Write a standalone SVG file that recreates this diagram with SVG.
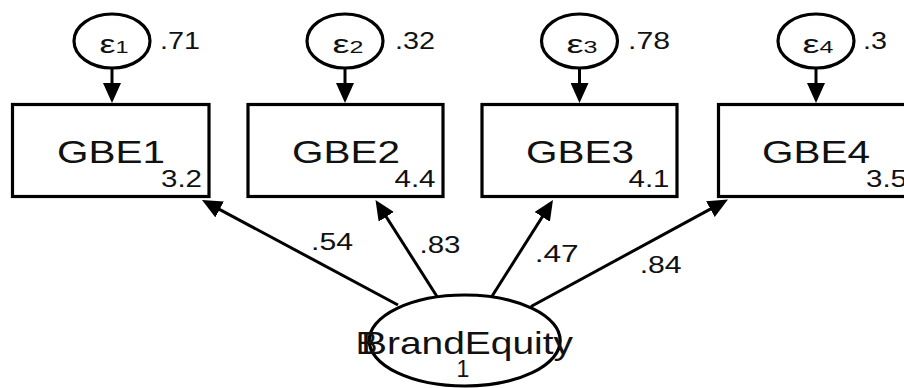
<svg xmlns="http://www.w3.org/2000/svg" width="904" height="388" viewBox="0 0 904 388">
  <style>
    .shape { fill: #fff; stroke: #000; stroke-width: 3.2; }
    .link { stroke: #000; stroke-width: 3; fill: none; marker-end: url(#head); }
    text { font-family: "Liberation Sans", Arial, sans-serif; fill: #111; }
    .name { font-size: 32px; text-anchor: middle; }
    .mean { font-size: 23px; text-anchor: end; }
    .coef { font-size: 23px; }
    .eps { font-size: 26px; text-anchor: middle; }
    .sub { font-size: 17px; }
  </style>
  <defs>
    <marker id="head" viewBox="0 0 20 18" markerWidth="20" markerHeight="18" refX="15" refY="9" orient="auto" markerUnits="userSpaceOnUse">
      <path d="M0,0 L20,9 L0,18 Z" fill="#000"/>
    </marker>
  </defs>

  <!-- paths: errors to indicators, latent factor to indicators -->
  <g id="connectors">
    <line class="link" x1="112" y1="68" x2="112" y2="98"/>
    <line class="link" x1="345" y1="68" x2="345" y2="98"/>
    <line class="link" x1="579.5" y1="68" x2="579.5" y2="98"/>
    <line class="link" x1="816" y1="68" x2="816" y2="98"/>
    <line class="link" x1="398" y1="305" x2="206.4" y2="202.4"/>
    <line class="link" x1="437" y1="296.5" x2="378.2" y2="204.2"/>
    <line class="link" x1="491.7" y1="296.7" x2="550.3" y2="204.2"/>
    <line class="link" x1="531" y1="306.5" x2="723.6" y2="201.9"/>
    <text class="coef" x="311" y="250" textLength="42" lengthAdjust="spacingAndGlyphs">.54</text>
    <text class="coef" x="419.5" y="253.3" textLength="41" lengthAdjust="spacingAndGlyphs">.83</text>
    <text class="coef" x="534.7" y="261.7" textLength="44" lengthAdjust="spacingAndGlyphs">.47</text>
    <text class="coef" x="639.7" y="273.3" textLength="42" lengthAdjust="spacingAndGlyphs">.84</text>
  </g>

  <!-- error terms -->
  <g id="e1">
    <ellipse class="shape" cx="112" cy="41" rx="38" ry="27"/>
    <text class="eps" x="114" y="53" textLength="29" lengthAdjust="spacingAndGlyphs">ε<tspan class="sub">1</tspan></text>
    <text class="coef" x="160" y="49" textLength="40" lengthAdjust="spacingAndGlyphs">.71</text>
  </g>
  <g id="e2">
    <ellipse class="shape" cx="345" cy="41" rx="38" ry="27"/>
    <text class="eps" x="348" y="53" textLength="31" lengthAdjust="spacingAndGlyphs">ε<tspan class="sub">2</tspan></text>
    <text class="coef" x="395" y="49" textLength="40" lengthAdjust="spacingAndGlyphs">.32</text>
  </g>
  <g id="e3">
    <ellipse class="shape" cx="579.5" cy="41" rx="38" ry="27"/>
    <text class="eps" x="582" y="53" textLength="31" lengthAdjust="spacingAndGlyphs">ε<tspan class="sub">3</tspan></text>
    <text class="coef" x="628" y="48.5" textLength="42" lengthAdjust="spacingAndGlyphs">.78</text>
  </g>
  <g id="e4">
    <ellipse class="shape" cx="816" cy="41" rx="38" ry="27"/>
    <text class="eps" x="818" y="53" textLength="31" lengthAdjust="spacingAndGlyphs">ε<tspan class="sub">4</tspan></text>
    <text class="coef" x="863" y="48.5" textLength="24" lengthAdjust="spacingAndGlyphs">.3</text>
  </g>

  <!-- observed indicators -->
  <g id="GBE1">
    <rect class="shape" x="12.5" y="104.5" width="196.5" height="92"/>
    <text class="name" x="111" y="163" textLength="108" lengthAdjust="spacingAndGlyphs">GBE1</text>
    <text class="mean" x="202" y="187" textLength="41" lengthAdjust="spacingAndGlyphs">3.2</text>
  </g>
  <g id="GBE2">
    <rect class="shape" x="248" y="104.5" width="195" height="92"/>
    <text class="name" x="346" y="163" textLength="108" lengthAdjust="spacingAndGlyphs">GBE2</text>
    <text class="mean" x="435.5" y="187" textLength="41" lengthAdjust="spacingAndGlyphs">4.4</text>
  </g>
  <g id="GBE3">
    <rect class="shape" x="482" y="104.5" width="195" height="92"/>
    <text class="name" x="580" y="163" textLength="108" lengthAdjust="spacingAndGlyphs">GBE3</text>
    <text class="mean" x="669.5" y="187" textLength="41" lengthAdjust="spacingAndGlyphs">4.1</text>
  </g>
  <g id="GBE4">
    <rect class="shape" x="718.5" y="104.5" width="196" height="92"/>
    <text class="name" x="816" y="163" textLength="108" lengthAdjust="spacingAndGlyphs">GBE4</text>
    <text class="mean" x="907" y="187" textLength="41" lengthAdjust="spacingAndGlyphs">3.5</text>
  </g>

  <!-- latent factor; the label's leading B is printed twice, slightly offset -->
  <g id="BrandEquity">
    <ellipse class="shape" cx="464.7" cy="340.5" rx="95.5" ry="45.5"/>
    <text y="354" font-size="32"><tspan x="356">B</tspan><tspan x="361" textLength="212" lengthAdjust="spacingAndGlyphs">BrandEquity</tspan></text>
    <text x="463" y="377" font-size="23" text-anchor="middle">1</text>
  </g>
</svg>
